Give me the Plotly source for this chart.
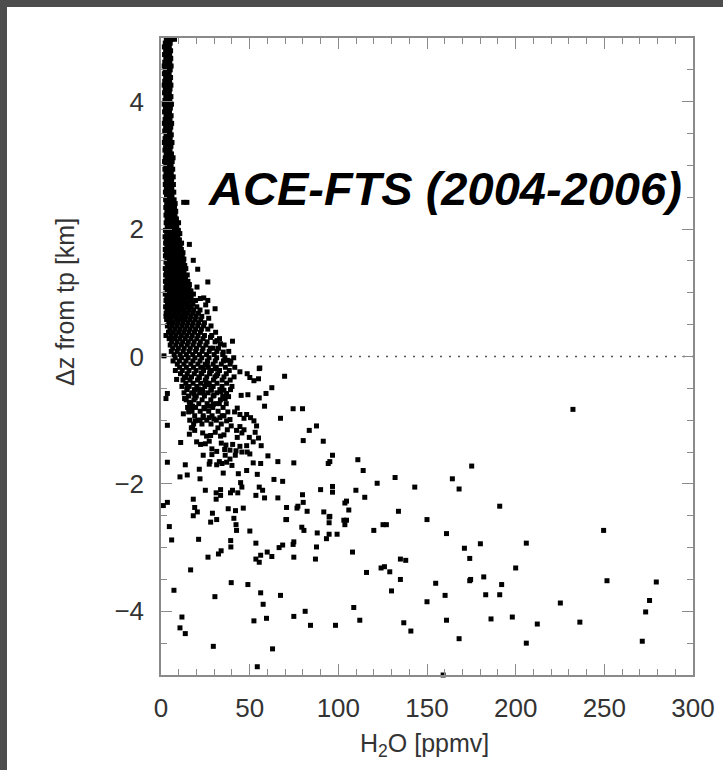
import plotly.graph_objects as go

# ---- data ----
# dense stem near the tropopause: (dz [km], [H2O ppmv values at that level])
stem_rows = [
    (4.98, [3.0, 4.4, 5.8, 7.6]),
    (4.92, [2.4, 3.8, 5.2]),
    (4.86, [1.9, 3.3, 4.7]),
    (4.80, [2.6, 4.0, 5.4]),
    (4.74, [2.0, 3.4, 4.9]),
    (4.68, [2.7, 4.1, 5.5]),
    (4.62, [2.1, 3.5, 5.0]),
    (4.56, [1.8, 3.0, 4.4, 5.7]),
    (4.50, [2.4, 3.8, 5.2]),
    (4.44, [1.9, 3.2, 4.6]),
    (4.38, [2.6, 4.0, 5.4]),
    (4.32, [2.1, 3.5, 4.9]),
    (4.26, [1.8, 2.9, 4.3, 5.6]),
    (4.20, [2.4, 3.8, 5.1]),
    (4.14, [2.0, 3.3, 4.7]),
    (4.08, [2.7, 4.1, 5.6]),
    (4.02, [2.2, 3.6, 5.0]),
    (3.96, [1.8, 3.1, 4.5, 5.9]),
    (3.90, [2.5, 3.9, 5.3]),
    (3.84, [2.0, 3.4, 4.8]),
    (3.78, [2.8, 4.2, 5.7]),
    (3.72, [2.3, 3.7, 5.1]),
    (3.66, [1.9, 3.2, 4.6, 6.0]),
    (3.60, [2.6, 4.0, 5.5]),
    (3.54, [2.1, 3.5, 5.0]),
    (3.48, [2.8, 4.3, 5.8]),
    (3.42, [2.3, 3.7, 5.2]),
    (3.36, [1.9, 3.2, 4.7, 6.2]),
    (3.30, [2.6, 4.1, 5.6]),
    (3.24, [2.2, 3.6, 5.1]),
    (3.18, [2.9, 4.4, 5.9]),
    (3.12, [2.4, 3.9, 5.4, 6.8]),
    (3.06, [2.0, 3.4, 4.9, 6.3]),
    (3.00, [2.7, 4.2, 5.7]),
    (2.94, [2.2, 3.7, 5.2, 6.6]),
    (2.88, [2.8, 4.3, 5.8]),
    (2.82, [2.3, 3.8, 5.3, 6.9]),
    (2.76, [2.9, 4.4, 6.0]),
    (2.70, [2.4, 3.9, 5.5, 7.0]),
    (2.64, [3.0, 4.5, 6.1]),
    (2.58, [2.5, 4.0, 5.6, 7.2]),
    (2.52, [3.1, 4.6, 6.2]),
    (2.46, [2.6, 4.1, 5.8, 7.4]),
    (2.40, [3.2, 4.7, 6.3, 8.0]),
    (2.34, [2.7, 4.3, 5.9, 7.6]),
    (2.28, [3.3, 4.9, 6.5, 8.3]),
    (2.22, [2.8, 4.4, 6.1, 7.9]),
    (2.16, [3.4, 5.0, 6.8, 8.7]),
    (2.10, [2.9, 4.6, 6.3, 8.1, 9.9]),
    (2.04, [3.5, 5.2, 7.0, 8.9]),
    (1.98, [2.5, 4.2, 6.0, 7.8, 9.8]),
    (1.93, [3.2, 5.0, 6.8, 8.6, 10.6]),
    (1.88, [2.3, 4.0, 5.8, 7.6, 9.5]),
    (1.83, [3.0, 4.8, 6.6, 8.4, 10.4]),
    (1.78, [2.6, 4.4, 6.2, 8.0, 9.8, 11.6]),
    (1.73, [3.3, 5.1, 6.9, 8.8, 10.8]),
    (1.68, [2.4, 4.2, 6.0, 7.8, 9.6, 11.5]),
    (1.63, [3.0, 4.9, 6.7, 8.6, 10.5, 12.4]),
    (1.58, [2.5, 4.4, 6.3, 8.2, 10.1, 12.0]),
    (1.53, [3.3, 5.2, 7.1, 9.0, 10.9, 12.9]),
    (1.48, [2.8, 4.7, 6.6, 8.5, 10.4, 12.6]),
    (1.43, [3.5, 5.4, 7.3, 9.3, 11.3, 13.4]),
    (1.38, [2.4, 4.3, 6.2, 8.1, 10.0, 12.2, 14.0]),
    (1.33, [3.1, 5.0, 7.0, 8.9, 10.9, 13.0]),
    (1.28, [2.6, 4.6, 6.6, 8.6, 10.6, 12.6, 14.8]),
    (1.23, [3.4, 5.4, 7.4, 9.4, 11.5, 13.8]),
    (1.18, [2.5, 4.5, 6.5, 8.5, 10.6, 12.8, 15.2]),
    (1.13, [3.2, 5.3, 7.3, 9.4, 11.5, 13.6, 16.0]),
    (1.08, [2.7, 4.8, 6.9, 9.0, 11.2, 13.4, 15.8]),
    (1.03, [3.5, 5.6, 7.7, 9.9, 12.1, 14.4, 16.9]),
    (0.98, [2.4, 4.5, 6.7, 8.9, 11.1, 13.4, 15.8, 18.3]),
    (0.93, [3.3, 5.5, 7.7, 9.9, 12.2, 14.6, 17.0]),
    (0.88, [2.8, 5.0, 7.3, 9.6, 11.9, 14.3, 16.8, 19.5]),
    (0.83, [3.6, 5.9, 8.2, 10.5, 12.9, 15.4, 18.0]),
    (0.78, [2.6, 4.9, 7.2, 9.6, 12.0, 14.5, 17.1, 20.2]),
    (0.73, [3.4, 5.8, 8.2, 10.6, 13.1, 15.7, 18.4, 22.0]),
    (0.68, [2.9, 5.3, 7.8, 10.3, 12.8, 15.4, 18.2, 21.1]),
    (0.63, [4.0, 6.5, 9.0, 11.6, 14.2, 16.9, 19.8, 23.0]),
    (0.58, [3.2, 5.8, 8.4, 11.0, 13.7, 16.4, 19.3, 22.4]),
    (0.53, [4.4, 7.0, 9.7, 12.4, 15.2, 18.1, 21.2, 24.5]),
    (0.48, [3.6, 6.3, 9.0, 11.8, 14.6, 17.6, 20.7, 24.0, 28.2]),
    (0.43, [5.0, 7.8, 10.6, 13.5, 16.4, 19.5, 22.8, 26.4]),
    (0.38, [4.2, 7.0, 9.9, 12.8, 15.8, 18.9, 22.2, 30.8]),
    (0.33, [5.6, 8.5, 11.5, 14.5, 17.6, 20.9, 24.5, 28.6]),
    (0.28, [4.6, 7.6, 10.6, 13.7, 16.9, 20.2, 23.7, 33.0]),
    (0.23, [6.0, 9.1, 12.2, 15.4, 18.7, 22.2, 26.0, 30.5]),
    (0.18, [5.2, 8.3, 11.5, 14.8, 18.1, 21.6, 25.3, 35.6]),
    (0.13, [6.6, 9.8, 13.1, 16.5, 20.0, 23.7, 27.8, 32.4]),
    (0.08, [5.8, 9.1, 12.5, 15.9, 19.5, 23.2, 27.2, 31.5, 38.2]),
    (0.03, [7.4, 10.8, 14.3, 17.9, 21.7, 25.7, 30.0, 34.8]),
    (-0.02, [8.0, 11.6, 15.3, 19.1, 23.0, 27.1, 31.4, 36.0, 41.0]),
    (-0.07, [6.8, 10.4, 14.1, 18.0, 22.0, 26.2, 30.6, 35.2, 39.4]),
    (-0.12, [9.2, 12.9, 16.8, 20.8, 25.0, 29.4, 34.0, 39.0]),
    (-0.17, [10.5, 14.3, 18.3, 22.4, 26.7, 31.2, 36.3, 41.6]),
    (-0.22, [12.0, 15.8, 19.8, 24.0, 28.4, 33.0, 38.5]),
    (-0.27, [11.0, 14.8, 18.8, 23.0, 27.4, 32.0, 36.8]),
    (-0.32, [13.2, 17.2, 21.4, 25.8, 30.4, 35.5, 41.2]),
    (-0.37, [12.4, 16.4, 20.6, 25.0, 29.6, 34.5, 39.0]),
    (-0.42, [14.0, 18.1, 22.4, 26.9, 31.6, 37.0]),
    (-0.47, [11.8, 15.9, 20.2, 24.7, 29.4, 34.4, 40.0]),
    (-0.52, [14.6, 18.9, 23.4, 28.1, 33.2, 39.2]),
    (-0.57, [13.0, 17.3, 21.8, 26.5, 31.5]),
    (-0.62, [15.5, 19.9, 24.5, 29.4, 34.8]),
    (-0.68, [14.2, 18.6, 23.2, 28.1, 33.5]),
    (-0.74, [16.8, 21.3, 26.0, 31.0, 36.8]),
    (-0.80, [15.0, 19.5, 24.2, 29.2, 35.0]),
    (-0.86, [17.5, 22.1, 26.9, 32.2]),
    (-0.93, [19.0, 23.8, 28.8, 34.5]),
    (-1.00, [16.2, 20.8, 25.8, 31.2]),
    (-1.06, [18.4, 23.1, 28.2, 34.0]),
]

# individual soundings below the stem: H2O [ppmv] and dz [km]
h2o_pts = [
    12.8, 14.6, 18.2, 20.7, 26.4, 16.0, 24.1, 26.4, 30.5, 26.9, 2.8, 2.8, 6.9, 40.3,
    35.1, 37.4, 55.7, 20.3, 22.2, 25.2, 26.0, 31.6, 33.5, 29.4, 27.9, 1.7, 5.3, 4.6,
    8.1, 8.8, 14.1, 14.8, 13.3, 16.0, 17.8, 12.6, 15.6, 16.7, 19.3, 18.6, 21.2, 23.8,
    21.6, 22.7, 23.8, 26.1, 27.6, 30.6, 31.4, 25.4, 27.2, 28.4, 29.9, 33.6, 35.5, 37.0,
    38.1, 36.2, 32.9, 29.5, 26.9, 24.6, 23.8, 22.0, 19.3, 27.2, 29.9, 33.2, 35.5, 37.0,
    38.9, 37.7, 41.5, 43.0, 44.5, 46.8, 48.3, 50.5, 52.4, 53.9, 53.1, 55.0, 56.5, 52.0,
    49.8, 46.8, 44.5, 45.6, 43.0, 40.4, 42.3, 45.6, 48.6, 50.1, 48.3, 44.5, 41.9, 38.9,
    36.6, 34.0, 35.5, 37.4, 39.6, 42.6, 32.1, 30.6, 28.0, 25.7, 23.5, 19.0, 17.1, 16.0,
    20.1, 22.3, 25.0, 27.2, 28.7, 27.2, 32.9, 23.8, 27.6, 31.4, 38.9, 40.0, 37.0, 36.2,
    35.9, 31.4, 28.7, 33.6, 17.8,
    44.5, 48.6, 50.1, 55.4, 52.4, 55.0, 69.7, 62.5, 59.2, 55.4, 58.4, 45.2, 49.0, 74.5,
    79.8, 67.4, 83.6, 87.7, 80.2, 91.5, 96.7, 95.2, 94.3, 3.6, 2.8, 3.6, 3.6, 11.1,
    13.7, 10.7, 14.8, 22.0, 21.6, 25.0, 35.1, 34.4, 43.6, 44.9, 45.6, 48.3, 52.0, 56.2,
    54.3, 60.3, 65.9, 74.9, 63.7, 68.6, 55.4, 57.3, 58.4, 53.5, 65.9, 79.8, 80.2, 77.2,
    90.0, 96.7, 96.7, 1.3, 3.6, 18.2, 19.0, 20.5, 31.1, 33.6, 31.1, 33.6, 37.9, 42.0,
    40.3, 39.2, 43.3, 46.4, 29.0, 70.8, 70.4, 76.7, 82.4, 91.8, 95.2,
    4.7, 6.0, 18.2, 28.0, 31.4, 41.1, 42.3, 42.6, 50.1, 70.8, 79.4, 80.6, 88.1, 94.8,
    94.8, 21.2, 39.3, 39.4, 53.5, 26.5, 32.4, 33.9, 53.5, 55.4, 56.2, 59.9, 62.5, 66.6,
    68.6, 74.5, 74.9, 74.9, 87.7, 87.1, 93.3, 94.8, 99.3, -2.4, 16.7, 7.3, 39.6, 49.0,
    30.4, 56.2, 57.6, 67.4, 11.8, 10.7, 13.7, 52.4, 59.5, 74.9, 81.3, 84.3, 98.4, 29.5,
    62.9, 54.3,
    111.0, 114.0, 175.2, 121.9, 132.0, 164.3, 109.9, 143.1, 168.1, 114.9, 104.6, 103.7,
    105.9, 191.0, 103.1, 104.6, 103.7, 133.9, 150.0, 120.0, 125.2, 127.1, 161.0, 108.0,
    171.1, 180.1, 174.1, 200.0, 135.0, 138.0, 115.9, 124.1, 126.0, 129.0, 135.0, 154.9,
    174.1, 174.6, 182.0, 192.1, 130.0, 150.0, 160.2, 183.1, 191.0, 108.7, 112.1, 136.9,
    140.9, 161.0, 186.1, 198.1, 168.1, 159.1,
    232.3, 249.6, 206.0, 312.7, 251.5, 279.3, 225.2, 275.5, 273.3, 212.2, 236.2, 206.0,
    271.4,
]
dz_pts = [
    2.42, 2.42, 1.51, 1.37, 1.17, 1.76, 0.92, 0.88, 0.75, 0.60, 0.63, 0.33, 0.29, 0.24,
    0.07, -0.06, -0.18, 1.09, 0.91, 0.81, 0.70, 0.25, 0.20, 0.13, 0.30, 0.01, 1.30, 1.19,
    -0.22, -0.36, -0.33, -0.49, -0.66, -0.72, -0.78, -0.90, -0.87, -0.82, -0.65, -0.59, -0.51, -0.57,
    -0.33, -0.26, -0.17, -0.13, -0.24, -0.19, -0.30, -0.40, -0.44, -0.53, -0.61, -0.55, -0.53, -0.58,
    -0.63, -0.66, -0.74, -0.75, -0.78, -0.82, -0.96, -1.00, -1.01, -0.96, -0.98, -0.96, -0.93, -1.01,
    -0.99, -0.87, -0.87, -0.81, -0.91, -0.97, -0.91, -0.96, -1.01, -1.09, -1.19, -1.28, -1.40, -1.34,
    -1.27, -1.15, -1.10, -1.20, -1.27, -1.38, -1.48, -1.50, -1.50, -1.53, -1.40, -1.41, -1.55, -1.47,
    -1.39, -1.36, -1.23, -1.15, -1.09, -1.16, -1.12, -1.19, -1.24, -1.25, -1.20, -1.16, -1.12, -1.22,
    -1.34, -1.38, -1.37, -1.33, -1.54, -1.69, -1.65, -1.55, -1.65, -1.70, -1.61, -1.71, -1.66, -1.55,
    -1.46, -1.49, -1.45, -1.25, -1.12,
    -0.24, -0.27, -0.33, -0.19, -0.38, -0.35, -0.31, -0.49, -0.58, -0.65, -0.78, -0.61, -0.60, -0.82,
    -0.82, -0.97, -1.16, -1.09, -1.32, -1.33, -1.55, -1.65, -1.68, -0.58, -0.66, -1.08, -1.66, -1.35,
    -1.70, -1.89, -1.86, -1.92, -1.77, -2.10, -1.83, -1.68, -1.84, -1.98, -2.05, -1.79, -1.67, -1.68,
    -1.85, -1.56, -1.65, -1.67, -1.93, -1.96, -2.05, -2.10, -2.22, -2.18, -2.22, -2.17, -2.29, -2.35,
    -2.09, -2.04, -2.13, -2.34, -2.29, -2.24, -2.37, -2.44, -2.14, -2.09, -2.24, -2.18, -2.39, -2.42,
    -2.10, -2.14, -2.14, -2.38, -2.46, -2.37, -2.56, -2.38, -2.43, -2.44, -2.51,
    -2.67, -2.88, -2.50, -2.60, -2.56, -2.54, -2.64, -2.73, -2.74, -2.56, -2.68, -2.73, -2.77, -2.61,
    -2.52, -2.87, -2.89, -2.99, -2.93, -3.15, -3.10, -3.05, -3.18, -3.23, -3.12, -3.07, -3.14, -3.00,
    -2.96, -2.95, -2.91, -3.15, -2.99, -3.18, -2.86, -2.79, -2.79, -3.42, -3.35, -3.67, -3.55, -3.58,
    -3.77, -3.71, -3.89, -3.75, -4.09, -4.26, -4.35, -4.15, -4.11, -4.08, -4.00, -4.22, -4.22, -4.55,
    -4.59, -4.87,
    -1.62, -1.79, -1.72, -1.99, -1.90, -1.92, -2.10, -2.05, -2.08, -2.21, -2.27, -2.30,
    -2.41, -2.35, -2.57, -2.57, -2.64, -2.43, -2.56, -2.73, -2.64, -2.64, -2.78, -3.07,
    -3.01, -2.94, -3.17, -3.32, -3.18, -3.20, -3.39, -3.32, -3.30, -3.38, -3.50, -3.56,
    -3.52, -3.50, -3.46, -3.58, -3.68, -3.85, -3.75, -3.74, -3.74, -3.94, -4.14, -4.18,
    -4.31, -4.14, -4.12, -4.09, -4.43, -5.00,
    -0.83, -2.73, -2.93, -3.11, -3.52, -3.54, -3.87, -3.83, -4.01, -4.20, -4.17, -4.50,
    -4.47,
]

x_ticks = [0, 50, 100, 150, 200, 250, 300]
y_ticks = [-4, -2, 0, 2, 4]
title_text = "ACE-FTS (2004-2006)"

# ---- build arrays ----
xs, ys = [], []
for dz, vals in stem_rows:
    for v in vals:
        xs.append(v)
        ys.append(dz)
xs += h2o_pts
ys += dz_pts

FONT = "Liberation Sans, Arial, sans-serif"
AX = "#8a8a8a"
FRAME = "#4d4d4d"

# plot-area geometry in pixels (for placing paper-referenced items)
L, T, R, B = 161, 38, 693, 675
W, H = R - L, B - T


def px2paper_x(px):
    return (px - L) / W


def px2paper_y(py):
    return (B - py) / H


fig = go.Figure()
fig.add_trace(go.Scatter(
    x=xs, y=ys, mode="markers", cliponaxis=False,
    marker=dict(symbol="square", size=5, color="black", line=dict(width=0)),
    hoverinfo="skip", showlegend=False,
))

axis_common = dict(
    showgrid=False, zeroline=False, showline=True, linecolor=AX, linewidth=1.5,
    mirror="ticks", ticks="inside", tickcolor=AX, tickwidth=1,
    tickfont=dict(family=FONT, size=26, color="#333333"),
    automargin=False,
)
fig.update_xaxes(range=[0, 300], tickvals=x_ticks, ticklen=11,
                 minor=dict(dtick=10, ticklen=6, ticks="inside", tickcolor=AX, tickwidth=1),
                 ticklabelstandoff=9, **axis_common)
fig.update_yaxes(range=[-5, 5], tickvals=y_ticks, ticklen=11,
                 minor=dict(dtick=0.5, ticklen=6, ticks="inside", tickcolor=AX, tickwidth=1),
                 ticklabelstandoff=10, **axis_common)

# zero (tropopause) line
fig.add_shape(type="line", xref="x", yref="y", x0=0, x1=300, y0=0, y1=0,
              line=dict(color="#555555", width=1.5, dash="2px,7px"), layer="below")

# dark frame strips along the top and left edges of the page
fig.add_shape(type="rect", xref="paper", yref="paper",
              x0=px2paper_x(-50), x1=px2paper_x(800),
              y0=px2paper_y(7), y1=px2paper_y(-50),
              fillcolor=FRAME, line=dict(width=0), layer="below")
fig.add_shape(type="rect", xref="paper", yref="paper",
              x0=px2paper_x(-50), x1=px2paper_x(7),
              y0=px2paper_y(850), y1=px2paper_y(-50),
              fillcolor=FRAME, line=dict(width=0), layer="below")

fig.add_annotation(x=160, y=2.64, xref="x", yref="y", text="<b><i>" + title_text + "</i></b>",
                   showarrow=False, xanchor="center", yanchor="middle",
                   font=dict(family=FONT, size=47, color="black"))
fig.add_annotation(x=px2paper_x(65), y=px2paper_y(302), xref="paper", yref="paper",
                   text="Δz from tp [km]", textangle=-90, showarrow=False,
                   xanchor="center", yanchor="middle",
                   font=dict(family=FONT, size=25, color="#333333"))
fig.add_annotation(x=px2paper_x(424), y=px2paper_y(745), xref="paper", yref="paper",
                   text="H<sub>2</sub>O [ppmv]", showarrow=False,
                   xanchor="center", yanchor="middle",
                   font=dict(family=FONT, size=25, color="#333333"))

fig.update_layout(
    width=723, height=770, autosize=False,
    margin=dict(l=L, r=723 - R, t=T, b=770 - B),
    paper_bgcolor="white", plot_bgcolor="white",
)

fig.write_html("out.html")
